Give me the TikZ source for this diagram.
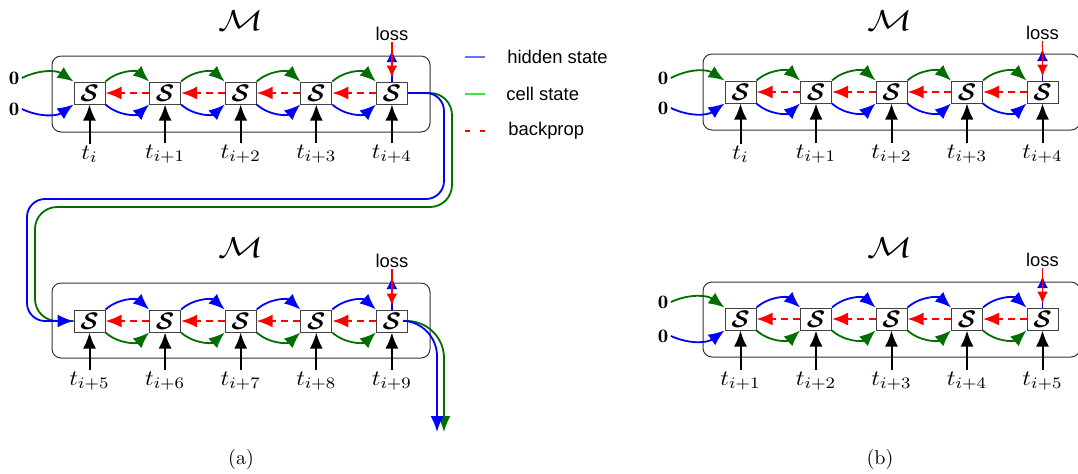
\documentclass[tikz,border=0pt]{standalone}
\usepackage{amsmath,bm}
\usepackage{fontspec}
\setsansfont{Liberation Sans}
\usetikzlibrary{arrows.meta}
\definecolor{dkgreen}{RGB}{0,110,0}
\definecolor{lgblue}{RGB}{110,110,255}
\definecolor{lggreen}{RGB}{60,230,60}
\newcommand\mychain[8]{%
  \foreach \k in {0,...,4} {
    \node[sbox] (#1\k) at ({#2+#7*\k},#3) {$\bm{\mathcal{S}}$};
    \pgfmathtruncatemacro\n{#6+\k}
    \ifnum\n=0 \def\lab{t_i}\else\edef\lab{t_{i+\n}}\fi
    \node[tlab] (#1t\k) at ({#2+#7*\k},#3+#8) {$\lab$};
    \draw[inp] (#1t\k.north) -- (#1\k.south);
  }
  \foreach \k [count=\j] in {0,...,3} {
    \draw[#4] (#1\k.north east) to[bend left=42] (#1\j.north west);
    \draw[#5] (#1\k.south east) to[bend right=42] (#1\j.south west);
    \draw[bp] (#1\j.west) -- (#1\k.east);
  }
}
\begin{document}
\begin{tikzpicture}[x=0.5pt,y=-0.5pt,
  sbox/.style={draw=black!75, fill=white, minimum width=15.5pt, minimum height=11pt, inner sep=0pt, line width=0.5pt, font=\fontsize{11.5}{13}\selectfont},
  cont/.style={draw=black!80, rounded corners=4.5pt, line width=0.5pt},
  tip/.style={-{Latex[length=8pt,width=6.5pt]}},
  stip/.style={-{Latex[length=6pt,width=5.5pt]}},
  hid/.style={tip, draw=blue, line width=0.9pt},
  cel/.style={tip, draw=dkgreen, line width=0.9pt},
  bp/.style={tip, draw=red, dash pattern=on 3.5pt off 2.5pt, line width=0.9pt},
  inp/.style={tip, draw=black, line width=1pt},
  tlab/.style={inner sep=0.5pt, font=\fontsize{11}{13}\selectfont, xscale=1.1},
  zlab/.style={inner sep=1pt, font=\fontsize{9.5}{11}\selectfont, xscale=1.1},
  mlab/.style={inner sep=0pt, font=\fontsize{14}{16}\selectfont, xscale=1.3},
  sans/.style={inner sep=0.5pt, font=\fontsize{9.2}{11}\sffamily},
  caplab/.style={inner sep=0pt, font=\fontsize{10}{12}\selectfont}
]
\useasboundingbox (0,0) rectangle (1078,473);
% containers
\draw[cont] (52,56) rectangle (430,132);
\draw[cont] (52,283) rectangle (430,358);
\draw[cont] (703,54) rectangle (1080,130);
\draw[cont] (703,282) rectangle (1080,357);
% M labels
\node[mlab] (mA) at (241,21) {$\mathcal{M}$};
\node[mlab] (mB) at (241,248) {$\mathcal{M}$};
\node[mlab] (mC) at (890,21) {$\mathcal{M}$};
\node[mlab] (mD) at (890,248) {$\mathcal{M}$};
% chains
\mychain{A}{89.5}{93}{cel}{hid}{0}{75.6}{61}
\mychain{B}{89.5}{321}{hid}{cel}{5}{75.6}{60}
\mychain{C}{740.5}{92}{cel}{hid}{0}{75.5}{62}
\mychain{D}{740.5}{319}{hid}{cel}{1}{75.5}{62}
% zero inputs
\node[zlab] (zA1) at (14,78) {$\mathbf{0}$};
\node[zlab] (zA2) at (14,109) {$\mathbf{0}$};
\draw[cel] (zA1.east) to[bend left=30] (A0.north west);
\draw[hid] (zA2.east) to[bend right=30] (A0.south west);
\node[zlab] (zC1) at (663,78) {$\mathbf{0}$};
\node[zlab] (zC2) at (663,108) {$\mathbf{0}$};
\draw[cel] (zC1.east) to[bend left=30] (C0.north west);
\draw[hid] (zC2.east) to[bend right=30] (C0.south west);
\node[zlab] (zD1) at (663,302) {$\mathbf{0}$};
\node[zlab] (zD2) at (663,336) {$\mathbf{0}$};
\draw[cel] (zD1.east) to[bend left=30] (D0.north west);
\draw[hid] (zD2.east) to[bend right=30] (D0.south west);
% loss
\foreach \p/\y in {A/34,B/261,C/33,D/260} {
  \node[sans] (loss\p) at (\p4 |- 0,\y) {loss};
  \coordinate (lu\p) at (\p4 |- 0,{\y+16});
  \draw[stip, draw=blue, line width=0.9pt] (\p4.north) -- (lu\p);
  \draw[stip, draw=red, line width=0.9pt, shorten >=2pt] (loss\p.south) -- (\p4.north);
}
% link between the two models of (a)
\coordinate (g1) at (452,93);
\coordinate (g2) at (452,207);
\coordinate (g3) at (35,207);
\coordinate (g4) at (35,321);
\coordinate (b1) at (444,93);
\coordinate (b2) at (444,199);
\coordinate (b3) at (27,199);
\coordinate (b4) at (27,321);
\draw[dkgreen, line width=0.9pt, rounded corners=11pt] (A4.east) -- (g1) -- (g2) -- (g3) -- (g4) -- (B0.west);
\draw[hid, rounded corners=9pt] (A4.east) -- (b1) -- (b2) -- (b3) -- (b4) -- (B0.west);
% outputs of (a)
\coordinate (go) at (444,322);
\coordinate (ge) at (444,432);
\coordinate (bo) at (437,322);
\coordinate (be) at (437,432);
\draw[cel, rounded corners=18pt] (B4.east) -- (go) -- (ge);
\draw[hid, rounded corners=17pt] (B4.east) -- (bo) -- (be);
% legend
\coordinate (l1a) at (465,57); \coordinate (l1b) at (485,57);
\coordinate (l2a) at (465,94); \coordinate (l2b) at (485,94);
\coordinate (l3a) at (465,131); \coordinate (l3b) at (485,131);
\draw[lgblue, line width=0.6pt] (l1a) -- (l1b);
\draw[lggreen, line width=0.6pt] (l2a) -- (l2b);
\draw[red, line width=0.6pt, dash pattern=on 2.5pt off 5pt] (l3a) -- (l3b);
\node[sans, anchor=west] (leg1) at (506,57) {hidden state};
\node[sans, anchor=west] (leg2) at (505,94) {cell state};
\node[sans, anchor=west] (leg3) at (507,131) {backprop};
% captions
\node[caplab] (capa) at (241,459) {(a)};
\node[caplab] (capb) at (880,459) {(b)};
\end{tikzpicture}
\end{document}
